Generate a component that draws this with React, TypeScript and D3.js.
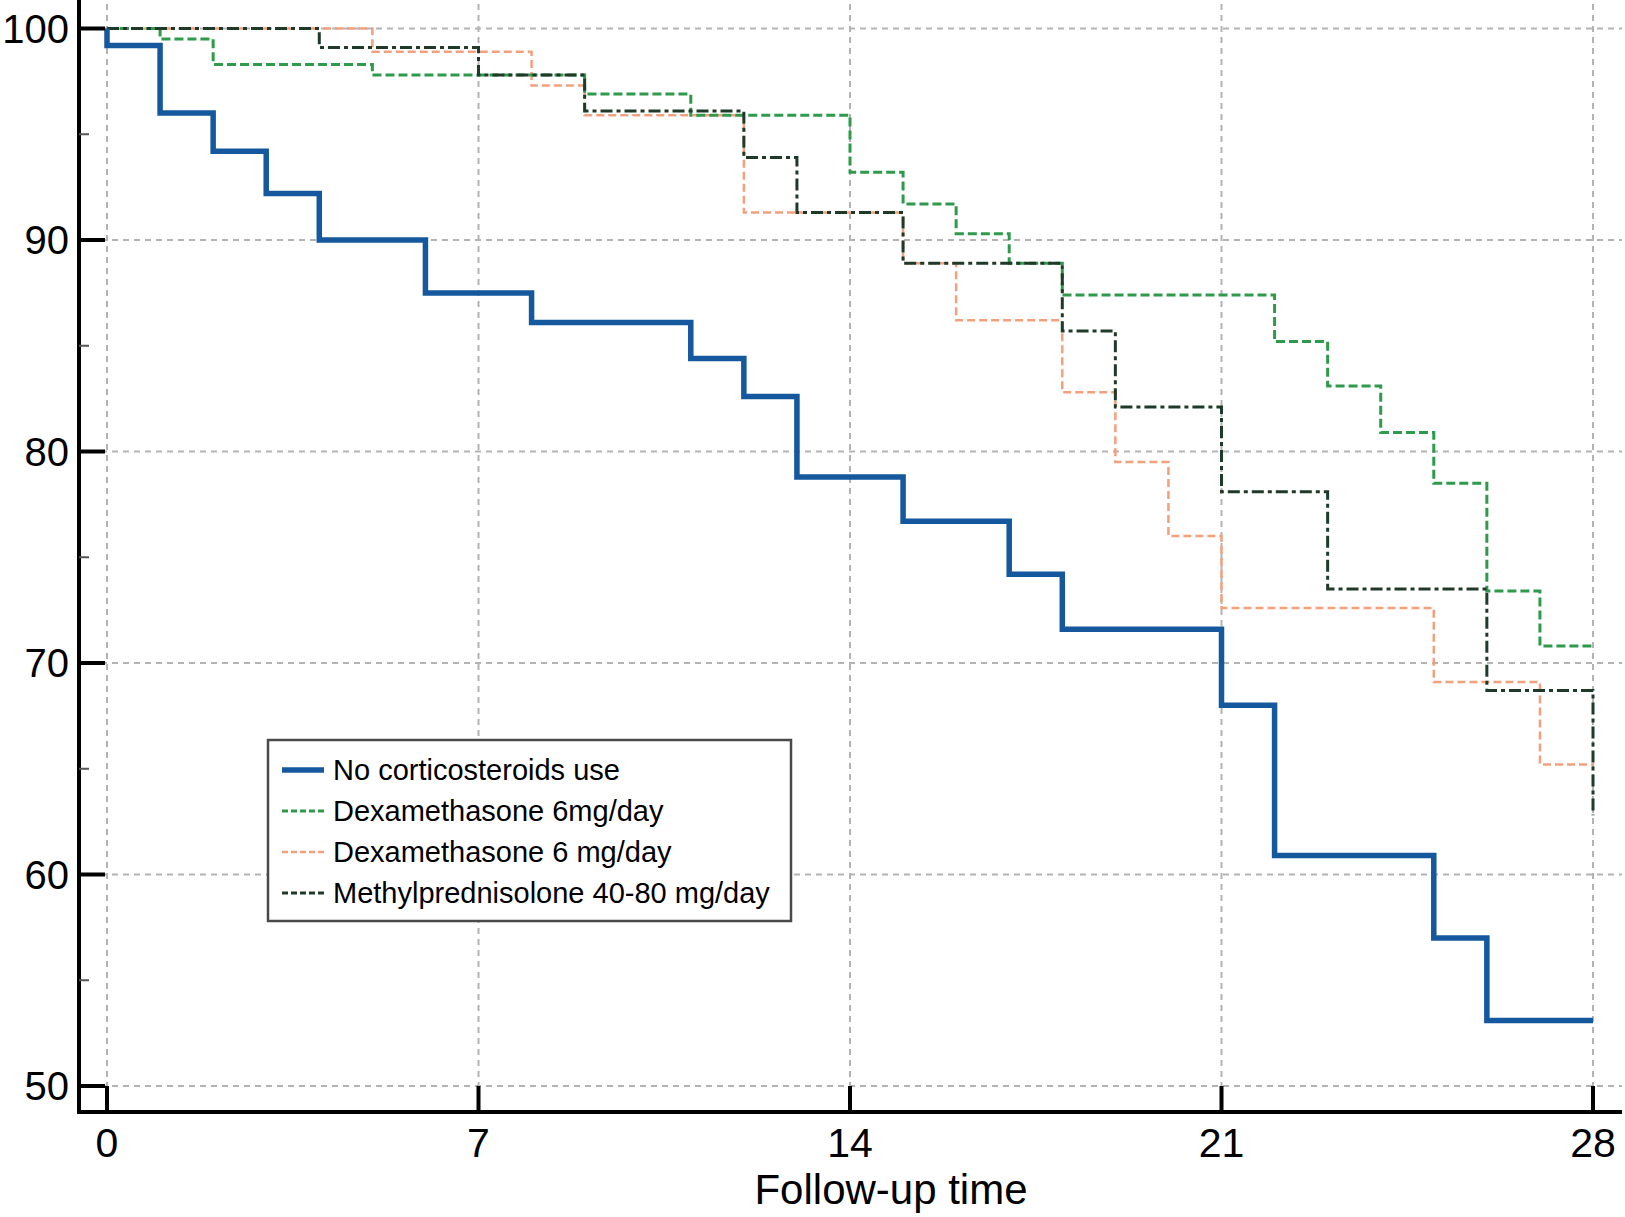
import React, { useRef, useEffect } from 'react';
import * as d3 from 'd3';

// follow-up days and survival (%)
const noCortTimes = [0, 0, 1, 2, 3, 4, 6, 8, 11, 12, 13, 15, 17, 18, 21, 22, 25, 26, 28];
const noCortSurv = [100, 99.2, 96.0, 94.2, 92.2, 90.0, 87.5, 86.1, 84.4, 82.6, 78.8, 76.7, 74.2, 71.6, 68.0, 60.9, 57.0, 53.1, 53.1];

const dexaTimes = [0, 1, 2, 5, 9, 11, 14, 15, 16, 17, 18, 22, 23, 24, 25, 26, 27, 28];
const dexaSurv = [100, 99.5, 98.3, 97.8, 96.9, 95.9, 93.2, 91.7, 90.3, 88.9, 87.4, 85.2, 83.1, 80.9, 78.5, 73.4, 70.8, 70.8];

const dexa2Times = [0, 5, 8, 9, 12, 15, 16, 18, 19, 20, 21, 25, 27, 28];
const dexa2Surv = [100, 98.9, 97.3, 95.9, 91.3, 88.9, 86.2, 82.8, 79.5, 76.0, 72.6, 69.1, 65.2, 65.2];

const methylTimes = [0, 4, 7, 9, 12, 13, 15, 18, 19, 21, 23, 26, 28, 28];
const methylSurv = [100, 99.1, 97.8, 96.1, 93.9, 91.3, 88.9, 85.7, 82.1, 78.1, 73.5, 68.7, 68.7, 62.8];

const xTicks = [0, 7, 14, 21, 28];
const yTicks = [50, 60, 70, 80, 90, 100];
const yMinorTicks = [55, 65, 75, 85, 95];

const seriesNames = [
  'No corticosteroids use',
  'Dexamethasone 6mg/day',
  'Dexamethasone 6 mg/day',
  'Methylprednisolone 40-80 mg/day',
];

const W = 1625;
const H = 1217;
const FONT = '"Liberation Sans", Arial, Helvetica, sans-serif';

const App = () => {
  const svgRef = useRef(null);

  useEffect(() => {
    const svg = d3.select(svgRef.current);
    svg.selectAll('*').remove();

    const x = d3.scaleLinear().domain([0, 28]).range([107, 1593]);
    const y = d3.scaleLinear().domain([50, 100]).range([1086, 28.5]);
    const axisX = 79;
    const axisY = 1112;

    svg.append('rect').attr('width', W).attr('height', H).attr('fill', 'white');

    // grid
    const grid = svg.append('g')
      .attr('stroke', '#b3b3b3')
      .attr('stroke-width', 2)
      .attr('stroke-dasharray', '6,5');
    grid.selectAll('line.v')
      .data(xTicks)
      .enter()
      .append('line')
      .attr('x1', d => x(d)).attr('x2', d => x(d))
      .attr('y1', 4).attr('y2', axisY);
    grid.selectAll('line.h')
      .data(yTicks)
      .enter()
      .append('line')
      .attr('x1', axisX).attr('x2', 1622)
      .attr('y1', d => y(d)).attr('y2', d => y(d));

    // curves
    const series = [
      { t: dexa2Times, s: dexa2Surv, color: '#f3a07e', width: 2.5, dash: '8,4' },
      { t: dexaTimes, s: dexaSurv, color: '#2f9a4c', width: 3, dash: '9,4' },
      { t: methylTimes, s: methylSurv, color: '#1f3a29', width: 3, dash: '12,4,4,4' },
      { t: noCortTimes, s: noCortSurv, color: '#15589e', width: 5.5, dash: null },
    ];

    const line = d3.line()
      .x(d => x(d[0]))
      .y(d => y(d[1]))
      .curve(d3.curveStepAfter);

    series.forEach(sr => {
      const pts = sr.t.map((t, i) => [t, sr.s[i]]);
      svg.append('path')
        .attr('d', line(pts))
        .attr('fill', 'none')
        .attr('stroke', sr.color)
        .attr('stroke-width', sr.width)
        .attr('stroke-dasharray', sr.dash);
    });

    // axes
    const ax = svg.append('g').attr('stroke', 'black');
    ax.append('line')
      .attr('x1', axisX).attr('x2', axisX)
      .attr('y1', 0).attr('y2', axisY + 2)
      .attr('stroke-width', 4);
    ax.append('line')
      .attr('x1', axisX - 2).attr('x2', 1622)
      .attr('y1', axisY).attr('y2', axisY)
      .attr('stroke-width', 4);
    ax.selectAll('line.yt')
      .data(yTicks)
      .enter()
      .append('line')
      .attr('x1', axisX).attr('x2', axisX + 26)
      .attr('y1', d => y(d)).attr('y2', d => y(d))
      .attr('stroke-width', 4);
    ax.selectAll('line.ym')
      .data(yMinorTicks)
      .enter()
      .append('line')
      .attr('x1', axisX).attr('x2', axisX + 10)
      .attr('y1', d => y(d)).attr('y2', d => y(d))
      .attr('stroke', '#555')
      .attr('stroke-width', 2);
    ax.selectAll('line.xt')
      .data(xTicks)
      .enter()
      .append('line')
      .attr('x1', d => x(d)).attr('x2', d => x(d))
      .attr('y1', axisY).attr('y2', axisY - 26)
      .attr('stroke-width', 4);

    // tick labels
    svg.append('g')
      .selectAll('text')
      .data(yTicks)
      .enter()
      .append('text')
      .attr('x', 69)
      .attr('y', d => y(d) + 14)
      .attr('text-anchor', 'end')
      .attr('font-family', FONT)
      .attr('font-size', 40)
      .text(d => d);
    svg.append('g')
      .selectAll('text')
      .data(xTicks)
      .enter()
      .append('text')
      .attr('x', d => x(d))
      .attr('y', 1157)
      .attr('text-anchor', 'middle')
      .attr('font-family', FONT)
      .attr('font-size', 41)
      .text(d => d);

    svg.append('text')
      .attr('x', 891)
      .attr('y', 1204)
      .attr('text-anchor', 'middle')
      .attr('font-family', FONT)
      .attr('font-size', 42)
      .text('Follow-up time');

    // legend
    const lg = svg.append('g').attr('transform', 'translate(268,740)');
    lg.append('rect')
      .attr('width', 523).attr('height', 181)
      .attr('fill', 'white')
      .attr('stroke', '#4a4a4a')
      .attr('stroke-width', 2.5);
    const legendStyles = [series[3], series[1], series[0], series[2]];
    seriesNames.forEach((name, i) => {
      const st = legendStyles[i];
      const cy = 30 + i * 41;
      lg.append('line')
        .attr('x1', 14).attr('x2', 56)
        .attr('y1', cy).attr('y2', cy)
        .attr('stroke', st.color)
        .attr('stroke-width', st.width)
        .attr('stroke-dasharray', st.dash ? '6,3' : null);
      lg.append('text')
        .attr('x', 65)
        .attr('y', cy + 10)
        .attr('font-family', FONT)
        .attr('font-size', 29)
        .text(name);
    });
  }, []);

  return (
    <svg
      ref={svgRef}
      width={W}
      height={H}
      viewBox={`0 0 ${W} ${H}`}
      style={{ position: 'absolute', left: 0, top: 0 }}
    />
  );
};

export default App;
